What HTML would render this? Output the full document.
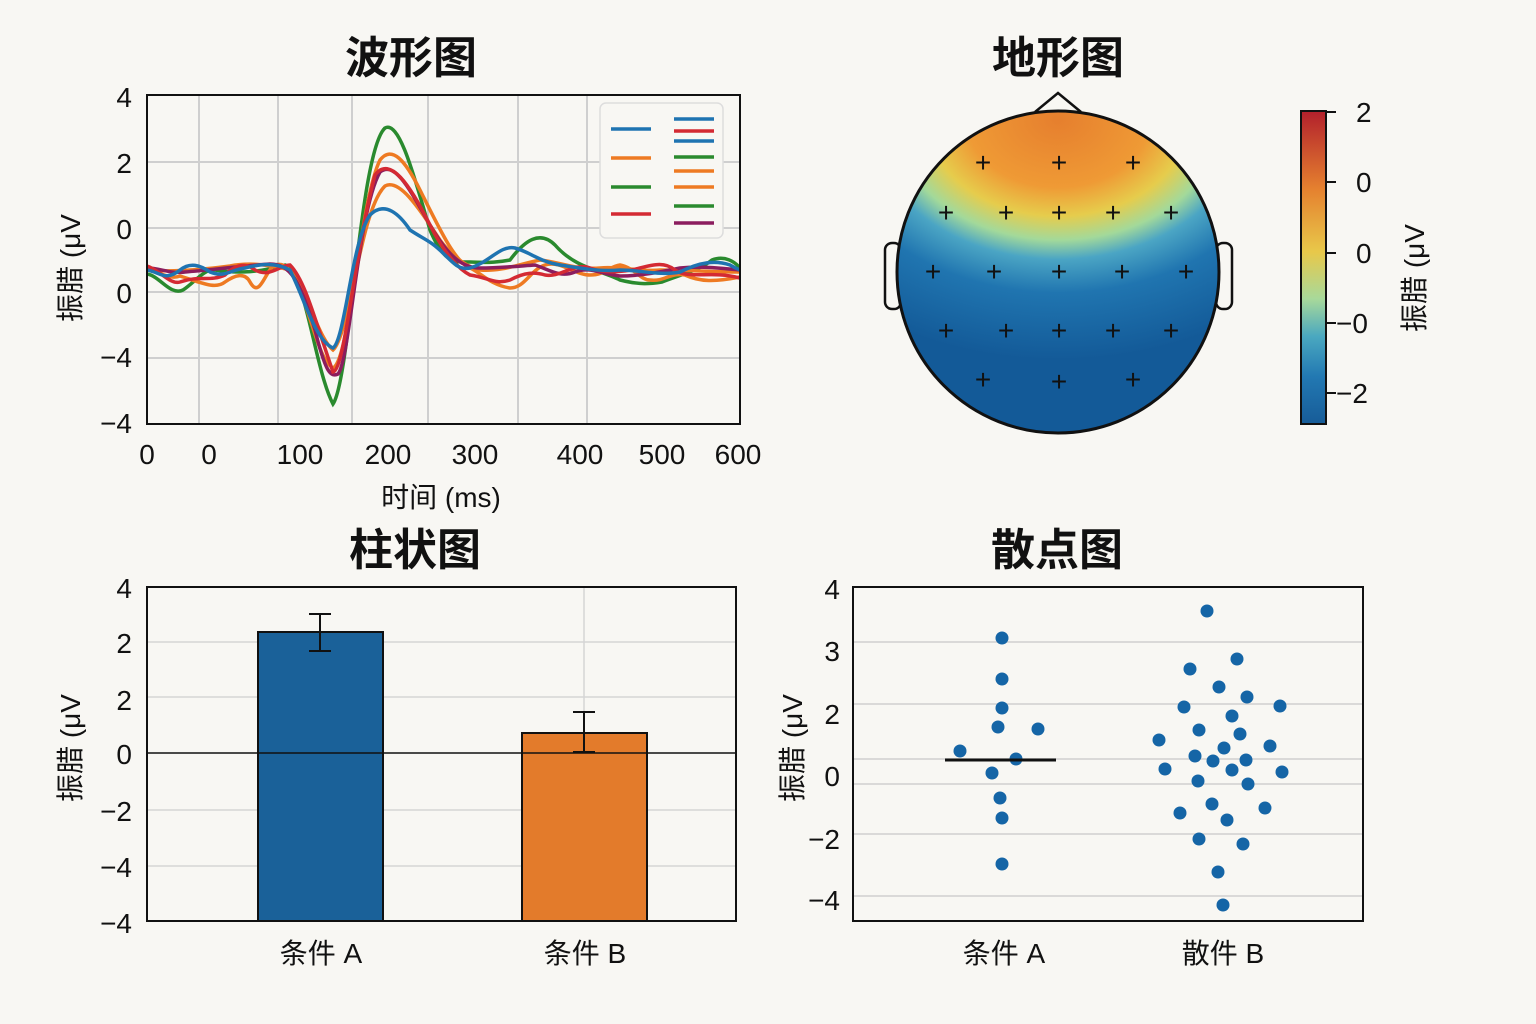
<!DOCTYPE html>
<html><head><meta charset="utf-8"><style>
body{margin:0;background:#f8f7f3}
svg{display:block}
text{font-family:"Liberation Sans","Noto Sans CJK SC",sans-serif;fill:#111}
</style></head><body>
<svg width="1536" height="1024" viewBox="0 0 1536 1024">
<defs>
<radialGradient id="hg" gradientUnits="userSpaceOnUse" cx="1058" cy="120" r="240" gradientTransform="translate(1058 120) scale(1.35 1) translate(-1058 -120)">
<stop offset="0" stop-color="#e67f2e"/><stop offset="0.28" stop-color="#ef9a35"/><stop offset="0.4" stop-color="#e6cc4c"/><stop offset="0.5" stop-color="#a3d99a"/><stop offset="0.58" stop-color="#4ba5c4"/><stop offset="0.72" stop-color="#2075b0"/><stop offset="1" stop-color="#135a98"/>
</radialGradient>
<linearGradient id="cb" x1="0" y1="0" x2="0" y2="1">
<stop offset="0" stop-color="#b2202c"/><stop offset="0.25" stop-color="#e5812f"/><stop offset="0.45" stop-color="#e8c84a"/><stop offset="0.6" stop-color="#a8d99a"/><stop offset="0.72" stop-color="#4aa8c0"/><stop offset="0.85" stop-color="#2278b2"/><stop offset="1" stop-color="#175c98"/>
</linearGradient>
<clipPath id="c1"><rect x="147" y="95" width="593" height="329"/></clipPath>
</defs>
<rect width="1536" height="1024" fill="#f8f7f3"/>

<!-- Waveform -->
<text x="411" y="73" font-size="44" font-weight="bold" text-anchor="middle">波形图</text>
<g stroke="#cfcfcf" stroke-width="2">
<line x1="199" y1="95" x2="199" y2="424"/><line x1="278" y1="95" x2="278" y2="424"/><line x1="352" y1="95" x2="352" y2="424"/><line x1="428" y1="95" x2="428" y2="424"/><line x1="518" y1="95" x2="518" y2="424"/><line x1="587" y1="95" x2="587" y2="424"/>
<line x1="147" y1="162" x2="740" y2="162"/><line x1="147" y1="228" x2="740" y2="228"/><line x1="147" y1="292" x2="740" y2="292"/><line x1="147" y1="358" x2="740" y2="358"/>
</g>
<g clip-path="url(#c1)" fill="none" stroke-width="3.5">
<path stroke="#2a8a2e" d="M147 274 C160 276 170 296 183 290 C195 282 205 268 215 270 C240 274 260 272 285 265 C305 270 315 370 333 404 C350 380 360 150 385 128 C400 120 415 180 430 230 C445 265 455 262 470 262 C490 263 500 262 510 260 C525 240 540 230 555 245 C575 268 600 270 620 280 C640 285 650 284 662 282 C680 275 700 270 712 260 C725 255 735 262 740 268"/>
<path stroke="#ee7a22" d="M147 270 C160 272 170 280 180 276 C200 282 215 290 225 282 C235 275 245 272 250 282 C260 300 265 270 275 265 C285 262 290 268 300 290 C315 330 320 360 333 368 C350 360 360 200 380 160 C392 145 405 160 420 190 C440 230 455 262 470 268 C480 272 490 285 510 288 C525 288 530 270 545 265 C560 260 575 275 590 275 C605 275 610 266 620 265 C635 268 640 280 650 280 C665 282 670 272 685 275 C700 282 715 282 740 277"/>
<path stroke="#ee7a22" d="M147 270 C170 272 200 270 230 266 C250 262 270 265 290 270 C310 300 320 340 333 350 C350 335 360 210 385 186 C400 178 420 210 440 240 C455 260 470 268 480 270 C500 272 520 264 540 260 C560 262 575 270 600 268 C620 266 640 272 660 270 C690 270 710 272 740 272"/>
<path stroke="#8b1d5e" d="M147 268 C160 268 170 274 185 272 C210 270 240 266 270 264 C290 264 300 280 315 330 C325 370 330 378 338 374 C350 360 358 210 380 172 C395 160 410 190 430 225 C450 260 465 268 480 268 C500 268 520 266 535 265 C550 270 560 278 575 272 C590 266 600 274 620 276 C640 276 660 272 680 268 C700 266 720 268 740 270"/>
<path stroke="#d42a33" d="M147 266 C160 270 170 285 180 282 C200 275 210 282 225 275 C235 265 245 262 255 270 C270 278 280 265 290 265 C305 280 315 320 333 372 C345 370 355 250 375 175 C390 155 410 185 430 225 C445 255 460 270 470 275 C490 278 495 285 510 280 C525 272 535 272 545 275 C560 278 575 262 590 268 C605 274 625 272 640 268 C655 264 665 262 675 270 C690 280 710 270 740 278"/>
<path stroke="#1f74b1" d="M147 270 C160 272 165 282 180 270 C190 262 200 265 210 272 C225 278 230 270 245 268 C260 264 275 262 290 270 C305 300 315 340 333 348 C345 340 352 240 370 215 C385 200 400 215 410 230 C425 240 430 240 445 255 C455 265 460 270 470 268 C490 262 500 245 515 248 C530 252 540 262 560 265 C580 268 600 272 620 270 C640 270 660 276 680 272 C700 262 715 260 730 265 C735 268 740 270 740 270"/>
</g>
<rect x="147" y="95" width="593" height="329" fill="none" stroke="#111" stroke-width="2"/>
<rect x="600" y="103" width="123" height="135" rx="6" fill="#f8f7f3" stroke="#ddd" stroke-width="1.5"/>
<g stroke-width="3.5">
<line x1="611" y1="129" x2="651" y2="129" stroke="#1f74b1"/><line x1="611" y1="158" x2="651" y2="158" stroke="#ee7a22"/><line x1="611" y1="187" x2="651" y2="187" stroke="#2a8a2e"/><line x1="611" y1="214" x2="651" y2="214" stroke="#d42a33"/>
<line x1="674" y1="119" x2="714" y2="119" stroke="#1f74b1"/><line x1="674" y1="131" x2="714" y2="131" stroke="#d42a33"/><line x1="674" y1="141" x2="714" y2="141" stroke="#1f74b1"/><line x1="674" y1="157" x2="714" y2="157" stroke="#2a8a2e"/><line x1="674" y1="171" x2="714" y2="171" stroke="#ee7a22"/><line x1="674" y1="187" x2="714" y2="187" stroke="#ee7a22"/><line x1="674" y1="206" x2="714" y2="206" stroke="#2a8a2e"/><line x1="674" y1="223" x2="714" y2="223" stroke="#8b1d5e"/>
</g>
<g font-size="28" text-anchor="end">
<text x="132" y="107">4</text><text x="132" y="173">2</text><text x="132" y="239">0</text><text x="132" y="303">0</text><text x="132" y="367">−4</text><text x="132" y="433">−4</text>
</g>
<g font-size="28" text-anchor="middle">
<text x="147" y="464">0</text><text x="209" y="464">0</text><text x="300" y="464">100</text><text x="388" y="464">200</text><text x="475" y="464">300</text><text x="580" y="464">400</text><text x="662" y="464">500</text><text x="738" y="464">600</text>
<text x="441" y="507">时间 (ms)</text>
</g>
<text transform="translate(80 268) rotate(-90)" font-size="28" text-anchor="middle">振腊 (μV</text>

<!-- Topomap -->
<text x="1058" y="73" font-size="44" font-weight="bold" text-anchor="middle">地形图</text>
<path d="M1035 112 L1058 93 L1081 112" fill="none" stroke="#111" stroke-width="2.5"/>
<rect x="885" y="243" width="16" height="66" rx="7" fill="#f8f7f3" stroke="#111" stroke-width="2.5"/>
<rect x="1216" y="243" width="16" height="66" rx="7" fill="#f8f7f3" stroke="#111" stroke-width="2.5"/>
<circle cx="1058" cy="272" r="161" fill="url(#hg)" stroke="#111" stroke-width="3"/>
<g font-size="28" text-anchor="middle" font-family="Liberation Sans">
<text x="983" y="172">+</text><text x="1059" y="172">+</text><text x="1133" y="172">+</text>
<text x="946" y="222">+</text><text x="1006" y="222">+</text><text x="1059" y="222">+</text><text x="1113" y="222">+</text><text x="1171" y="222">+</text>
<text x="933" y="281">+</text><text x="994" y="281">+</text><text x="1059" y="281">+</text><text x="1122" y="281">+</text><text x="1186" y="281">+</text>
<text x="946" y="340">+</text><text x="1006" y="340">+</text><text x="1059" y="340">+</text><text x="1113" y="340">+</text><text x="1171" y="340">+</text>
<text x="983" y="389">+</text><text x="1059" y="391">+</text><text x="1133" y="389">+</text>
</g>
<rect x="1301" y="111" width="25" height="313" fill="url(#cb)" stroke="#111" stroke-width="2"/>
<g stroke="#111" stroke-width="2"><line x1="1326" y1="112" x2="1336" y2="112"/><line x1="1326" y1="182" x2="1336" y2="182"/><line x1="1326" y1="253" x2="1336" y2="253"/><line x1="1326" y1="323" x2="1336" y2="323"/><line x1="1326" y1="393" x2="1336" y2="393"/></g>
<g font-size="28"><text x="1356" y="122">2</text><text x="1356" y="192">0</text><text x="1356" y="263">0</text><text x="1336" y="333">−0</text><text x="1336" y="403">−2</text></g>
<text transform="translate(1424 278) rotate(-90)" font-size="28" text-anchor="middle">振腊 (μV</text>

<!-- Bar chart -->
<text x="415" y="565" font-size="44" font-weight="bold" text-anchor="middle">柱状图</text>
<g stroke="#d5d5d5" stroke-width="1.5">
<line x1="147" y1="642" x2="736" y2="642"/><line x1="147" y1="697" x2="736" y2="697"/><line x1="147" y1="810" x2="736" y2="810"/><line x1="147" y1="866" x2="736" y2="866"/><line x1="584" y1="587" x2="584" y2="921"/>
</g>
<rect x="258" y="632" width="125" height="289" fill="#1a6199" stroke="#111" stroke-width="2"/>
<rect x="522" y="733" width="125" height="188" fill="#e37b2b" stroke="#111" stroke-width="2"/>
<line x1="147" y1="753" x2="736" y2="753" stroke="#111" stroke-width="1.5"/>
<g stroke="#111" stroke-width="2"><line x1="320" y1="614" x2="320" y2="651"/><line x1="309" y1="614" x2="331" y2="614"/><line x1="309" y1="651" x2="331" y2="651"/>
<line x1="584" y1="712" x2="584" y2="752"/><line x1="573" y1="712" x2="595" y2="712"/><line x1="573" y1="752" x2="595" y2="752"/></g>
<rect x="147" y="587" width="589" height="334" fill="none" stroke="#111" stroke-width="2"/>
<g font-size="28" text-anchor="end">
<text x="132" y="598">4</text><text x="132" y="653">2</text><text x="132" y="710">2</text><text x="132" y="764">0</text><text x="132" y="821">−2</text><text x="132" y="877">−4</text><text x="132" y="933">−4</text>
</g>
<g font-size="28" text-anchor="middle"><text x="321" y="963">条件 A</text><text x="585" y="963">条件 B</text></g>
<text transform="translate(80 748) rotate(-90)" font-size="28" text-anchor="middle">振腊 (μV</text>

<!-- Scatter -->
<text x="1057" y="565" font-size="44" font-weight="bold" text-anchor="middle">散点图</text>
<g stroke="#cfcfcf" stroke-width="1.5">
<line x1="853" y1="642" x2="1363" y2="642"/><line x1="853" y1="704" x2="1363" y2="704"/><line x1="853" y1="759" x2="1363" y2="759"/><line x1="853" y1="784" x2="1363" y2="784"/><line x1="853" y1="834" x2="1363" y2="834"/><line x1="853" y1="896" x2="1363" y2="896"/>
</g>
<g fill="#1565a6">
<circle cx="1002" cy="638" r="6.5"/><circle cx="1002" cy="679" r="6.5"/><circle cx="1002" cy="708" r="6.5"/><circle cx="998" cy="727" r="6.5"/><circle cx="1038" cy="729" r="6.5"/><circle cx="960" cy="751" r="6.5"/><circle cx="1016" cy="759" r="6.5"/><circle cx="992" cy="773" r="6.5"/><circle cx="1000" cy="798" r="6.5"/><circle cx="1002" cy="818" r="6.5"/><circle cx="1002" cy="864" r="6.5"/>
<circle cx="1207" cy="611" r="6.5"/><circle cx="1237" cy="659" r="6.5"/><circle cx="1190" cy="669" r="6.5"/><circle cx="1219" cy="687" r="6.5"/><circle cx="1247" cy="697" r="6.5"/><circle cx="1184" cy="707" r="6.5"/><circle cx="1280" cy="706" r="6.5"/><circle cx="1232" cy="716" r="6.5"/><circle cx="1199" cy="730" r="6.5"/><circle cx="1240" cy="734" r="6.5"/><circle cx="1159" cy="740" r="6.5"/><circle cx="1270" cy="746" r="6.5"/><circle cx="1224" cy="748" r="6.5"/><circle cx="1195" cy="756" r="6.5"/><circle cx="1213" cy="761" r="6.5"/><circle cx="1246" cy="760" r="6.5"/><circle cx="1165" cy="769" r="6.5"/><circle cx="1232" cy="770" r="6.5"/><circle cx="1282" cy="772" r="6.5"/><circle cx="1198" cy="781" r="6.5"/><circle cx="1248" cy="784" r="6.5"/><circle cx="1212" cy="804" r="6.5"/><circle cx="1265" cy="808" r="6.5"/><circle cx="1180" cy="813" r="6.5"/><circle cx="1227" cy="820" r="6.5"/><circle cx="1199" cy="839" r="6.5"/><circle cx="1243" cy="844" r="6.5"/><circle cx="1218" cy="872" r="6.5"/><circle cx="1223" cy="905" r="6.5"/>
</g>
<line x1="945" y1="760" x2="1056" y2="760" stroke="#111" stroke-width="3"/>
<rect x="853" y="587" width="510" height="334" fill="none" stroke="#111" stroke-width="2"/>
<g font-size="28" text-anchor="end">
<text x="840" y="599">4</text><text x="840" y="661">3</text><text x="840" y="724">2</text><text x="840" y="786">0</text><text x="840" y="849">−2</text><text x="840" y="910">−4</text>
</g>
<g font-size="28" text-anchor="middle"><text x="1004" y="963">条件 A</text><text x="1223" y="963">散件 B</text></g>
<text transform="translate(802 748) rotate(-90)" font-size="28" text-anchor="middle">振腊 (μV</text>
</svg>
</body></html>
